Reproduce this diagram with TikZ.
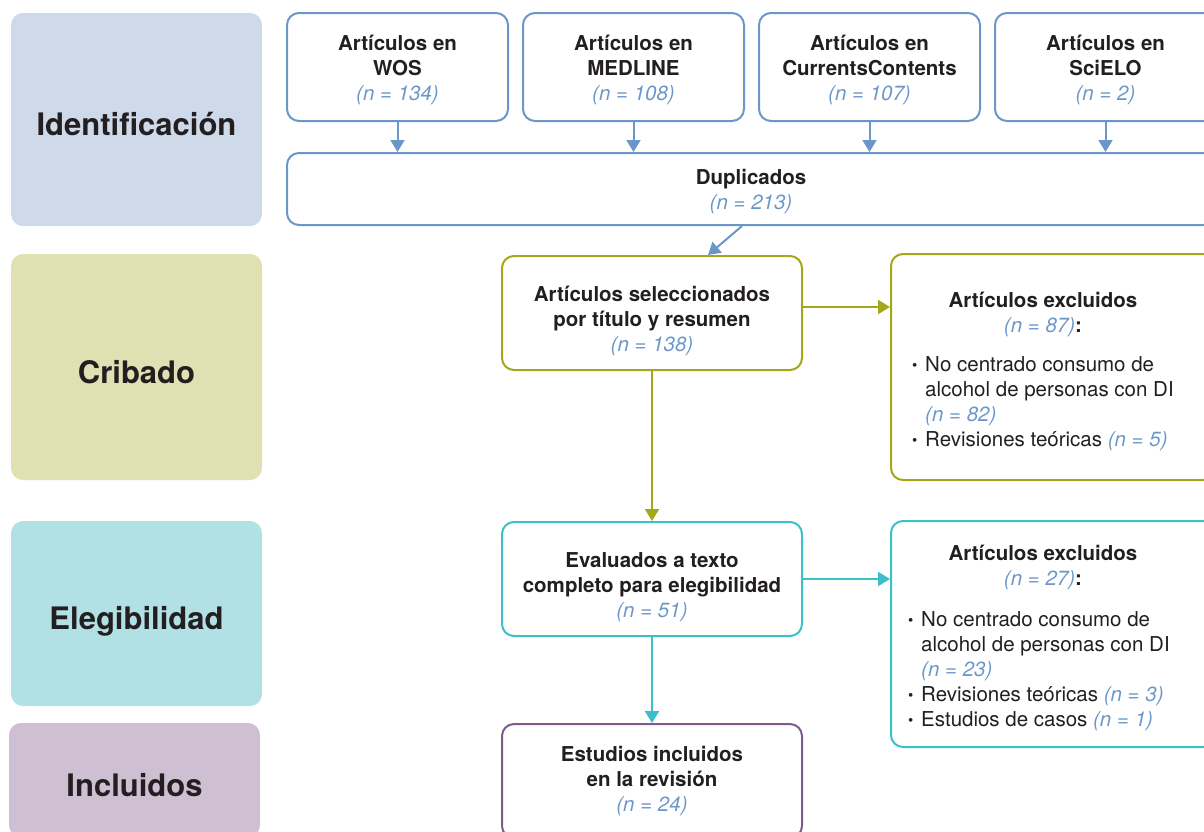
\documentclass[tikz,border=0pt]{standalone}
\usepackage{fontspec}
\setmainfont{TeX Gyre Heros}
\usetikzlibrary{positioning,arrows.meta}

\definecolor{idfill}{HTML}{CED9EA}
\definecolor{crfill}{HTML}{E1E0B3}
\definecolor{elfill}{HTML}{B1E1E4}
\definecolor{infill}{HTML}{CEBFD3}
\definecolor{lblue}{HTML}{6B97C8}
\definecolor{lolive}{HTML}{A5A71B}
\definecolor{lcyan}{HTML}{3BC0CB}
\definecolor{lpurple}{HTML}{7D5B8B}
\definecolor{txt}{HTML}{231F20}

\newcommand{\boxfont}{\fontsize{20.5}{25}\selectfont}
\newcommand{\stagefont}{\fontsize{31}{36}\selectfont\bfseries}
\newcommand{\ncount}[1]{{\mdseries\itshape\color{lblue}(n = #1)}}
\newcommand{\itm}{\makebox[13pt][l]{\raisebox{1pt}{\fontsize{15}{15}\selectfont\textbullet}}}
\newcommand{\listind}{\hspace*{13pt}}
\newcommand{\lift}[1]{\rule{0pt}{#1}}

\begin{document}
\begin{tikzpicture}[
                        x=1pt, y=-1pt,
                        node distance=13pt,
                        >={Triangle[length=12pt,width=14pt]},
                        stage/.style={rectangle, rounded corners=12pt, minimum width=251pt, text=txt, font=\stagefont, text height=32pt, text depth=0pt},
                        flowbox/.style={rectangle, draw, line width=2pt, rounded corners=12pt, align=center, text=txt, font=\boxfont\bfseries},
                        srcbox/.style={flowbox, draw=lblue, minimum width=221pt, minimum height=108pt},
                        stepbox/.style={flowbox, minimum width=300pt, minimum height=114pt},
                        exclbox/.style={flowbox, minimum width=324pt, minimum height=226pt},
                        head/.style={align=center, text=txt, font=\boxfont\bfseries},
                        reasons/.style={anchor=north west, inner sep=0pt, align=left, text=txt, font=\boxfont},
                        link/.style={->, line width=2pt}
                    ]
                    \useasboundingbox (0,0) rectangle (1204,831);

                    % Stages
                    \node [stage, fill=idfill, minimum height=213pt] (ident) at (136.5,119.5) {Identificación};
                    \node [stage, fill=crfill, minimum height=226pt] (cribado) at (136.5,367) {Cribado};
                    \node [stage, fill=elfill, minimum height=185pt] (elegib) at (136.5,613.5) {Elegibilidad};
                    \node [stage, fill=infill, minimum height=114pt] (incl) at (134.5,780) {Incluidos};

                    % Blocks
                    \node [srcbox] (wos) at (397.5,67) {\lift{21pt}Artículos en\\WOS\\\ncount{134}};
                    \node [srcbox, right=of wos] (medline) {\lift{21pt}Artículos en\\MEDLINE\\\ncount{108}};
                    \node [srcbox, right=of medline] (current) {\lift{21pt}Artículos en\\CurrentsContents\\\ncount{107}};
                    \node [srcbox, right=of current] (scielo) {\lift{21pt}Artículos en\\SciELO\\\ncount{2}};
                    \node [flowbox, draw=lblue, minimum width=928pt, minimum height=72pt] (dup) at (751,189) {\lift{21pt}Duplicados\\\ncount{213}};

                    \node [stepbox, draw=lolive] (sel) at (652,313) {\lift{31pt}Artículos seleccionados\\por título y resumen\\\ncount{138}};
                    \node [stepbox, draw=lcyan, below=150pt of sel] (eval) {\lift{31pt}Evaluados a texto\\completo para elegibilidad\\\ncount{51}};
                    \node [stepbox, draw=lpurple, below=86pt of eval] (final) {Estudios incluidos\\en la revisión\\\ncount{24}};

                    \node [exclbox, draw=lolive] (excl1) at (1053,367) {};
                    \node [head] (excl1head) at (1043,314.5) {Artículos excluidos\\\ncount{87}:};
                    \node [reasons] (excl1list) at (912,356) {\itm No centrado consumo de\\\listind alcohol de personas con DI\\\listind\ncount{82}\\\itm Revisiones teóricas \ncount{5}};

                    \node [exclbox, draw=lcyan] (excl2) at (1053,634) {};
                    \node [head] (excl2head) at (1043,567.5) {Artículos excluidos\\\ncount{27}:};
                    \node [reasons] (excl2list) at (908,611) {\itm No centrado consumo de\\\listind alcohol de personas con DI\\\listind\ncount{23}\\\itm Revisiones teóricas \ncount{3}\\\itm Estudios de casos \ncount{1}};

                    % Connections
                    \foreach \src in {wos,medline,current,scielo}
                        \draw [link, lblue] (\src) -- (\src.south |- dup.north);
                    \draw [link, lblue] ([xshift=-9pt]dup.south) -- ([xshift=56pt]sel.north);
                    \draw [link, lolive] ([yshift=6pt]sel.east) -- ([yshift=6pt]sel.east -| excl1.west);
                    \draw [link, lolive] (sel) -- (eval);
                    \draw [link, lcyan] (eval) -- (eval -| excl2.west);
                    \draw [link, lcyan] (eval) -- (final);
                \end{tikzpicture}
\end{document}
